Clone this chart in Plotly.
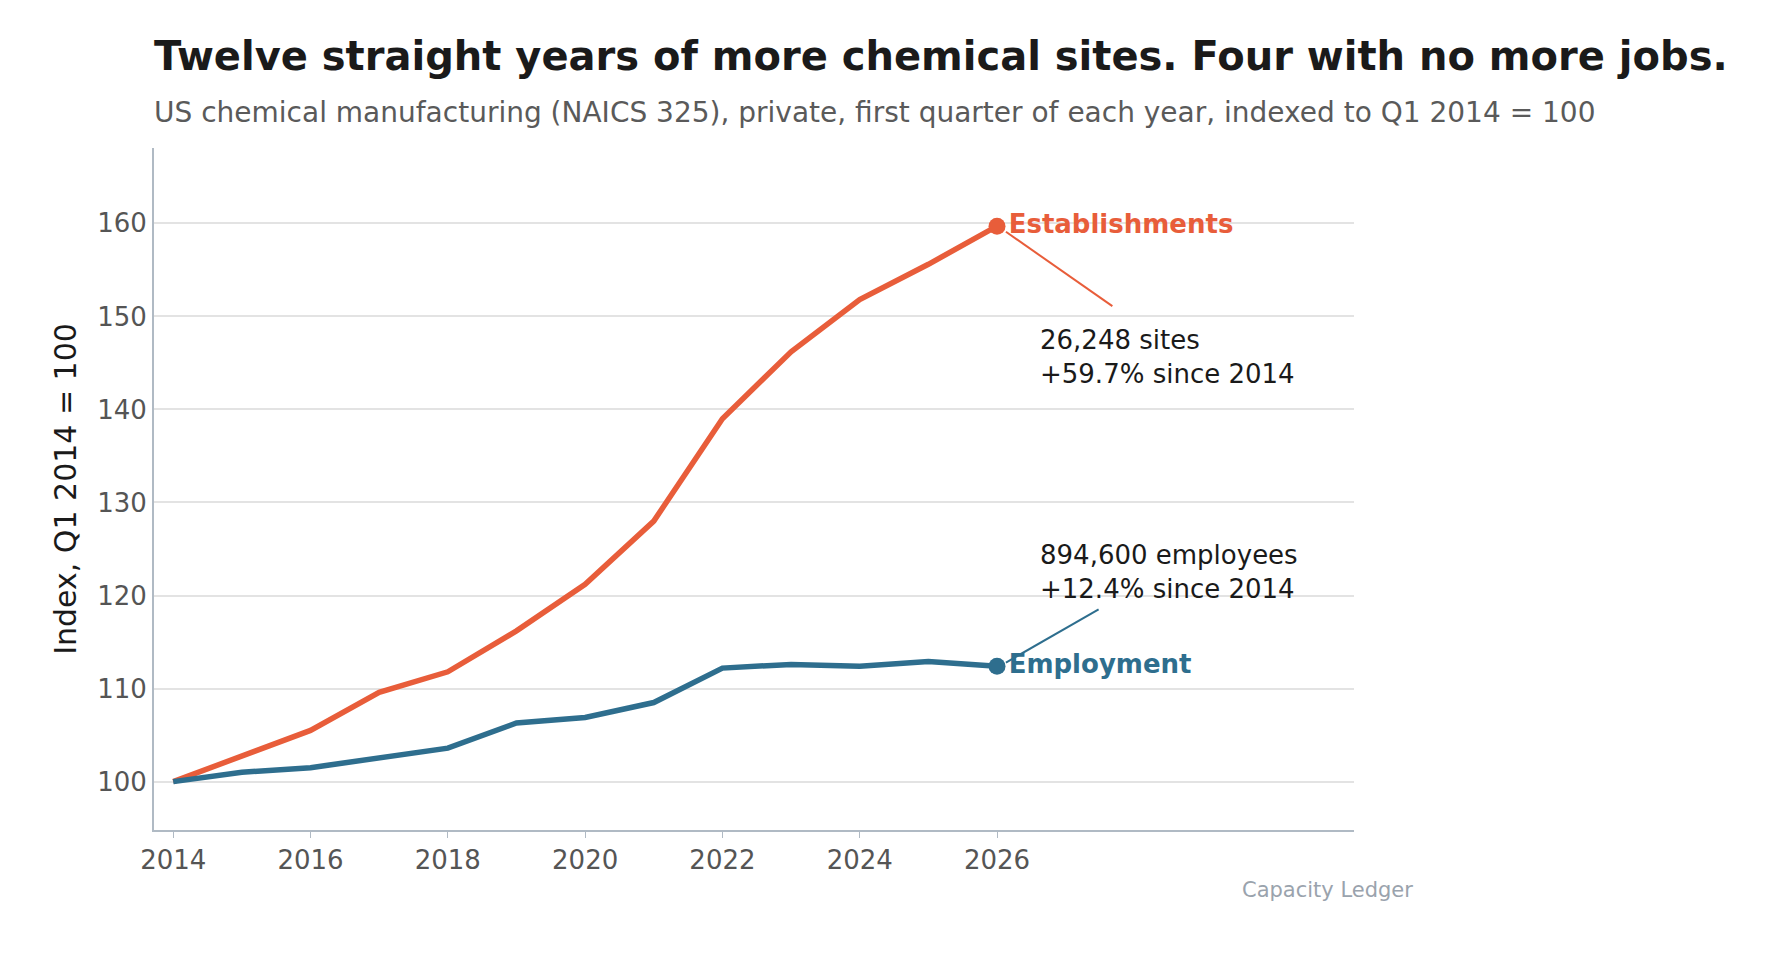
import plotly.graph_objects as go

years = list(range(2014, 2027))
establishments = [100, 102.7, 105.5, 109.6, 111.8, 116.2, 121.2, 128.0, 139.0, 146.2, 151.8, 155.6, 159.7]
employment = [100, 101.0, 101.5, 102.6, 103.6, 106.3, 106.9, 108.5, 112.2, 112.6, 112.4, 112.9, 112.4]

orange = "#E85D3A"
blue = "#2E6E8E"
font = "DejaVu Sans"

fig = go.Figure()
for name, vals, col in [("Establishments", establishments, orange), ("Employment", employment, blue)]:
	fig.add_trace(go.Scatter(x=years, y=vals, mode="lines", line=dict(color=col, width=5.5), showlegend=False))
	fig.add_trace(go.Scatter(x=[years[-1]], y=[vals[-1]], mode="markers+text", text=["<b>" + name + "</b>"],
		textposition="middle right", textfont=dict(color=col, size=26, family=font),
		marker=dict(color=col, size=17), showlegend=False, cliponaxis=False))

# callout leader lines
fig.add_shape(type="line", x0=2026.13, y0=159.1, x1=2027.68, y1=151.1, line=dict(color=orange, width=2))
fig.add_shape(type="line", x0=2026.13, y0=112.8, x1=2027.48, y1=118.5, line=dict(color=blue, width=2))
fig.add_annotation(x=2026.6, y=149.3, text="26,248 sites<br>+59.7% since 2014", showarrow=False,
	xanchor="left", yanchor="top", align="left", font=dict(size=26, color="#1a1a1a", family=font))
fig.add_annotation(x=2026.6, y=126.2, text="894,600 employees<br>+12.4% since 2014", showarrow=False,
	xanchor="left", yanchor="top", align="left", font=dict(size=26, color="#1a1a1a", family=font))

fig.add_annotation(x=1.051, y=-0.108, xref="paper", yref="paper", text="Capacity Ledger", showarrow=False,
	font=dict(size=21, color="#9aa3ad", family=font))

fig.update_layout(
	width=1771, height=960,
	paper_bgcolor="white", plot_bgcolor="white",
	font=dict(family=font, color="#555555"),
	margin=dict(l=146, r=425, t=140, b=138),
	title=dict(text="<b>Twelve straight years of more chemical sites. Four with no more jobs.</b>"
		"<br><span style='font-size:28px;color:#5a5a5a'>US chemical manufacturing (NAICS 325), private, first quarter of each year, indexed to Q1 2014 = 100</span>",
		x=0, xref="paper", y=0.935, yanchor="top", font=dict(size=40, color="#1a1a1a", family=font)),
	xaxis=dict(range=[2013.72, 2031.2], tickvals=list(range(2014, 2027, 2)), showgrid=False,
		showline=True, linecolor="#b0bac4", linewidth=2, ticks="outside", tickcolor="#b0bac4",
		ticklen=6, tickfont=dict(size=26, color="#555555"), zeroline=False),
	yaxis=dict(range=[94.8, 168.1], tickvals=[100, 110, 120, 130, 140, 150, 160], gridcolor="#e3e3e3",
		gridwidth=1.5, showline=True, linecolor="#b0bac4", linewidth=2, zeroline=False,
		tickfont=dict(size=26, color="#555555"),
		title=dict(text="Index, Q1 2014 = 100", font=dict(size=30, color="#1a1a1a"), standoff=12)),
)

fig.write_html("out.html")
